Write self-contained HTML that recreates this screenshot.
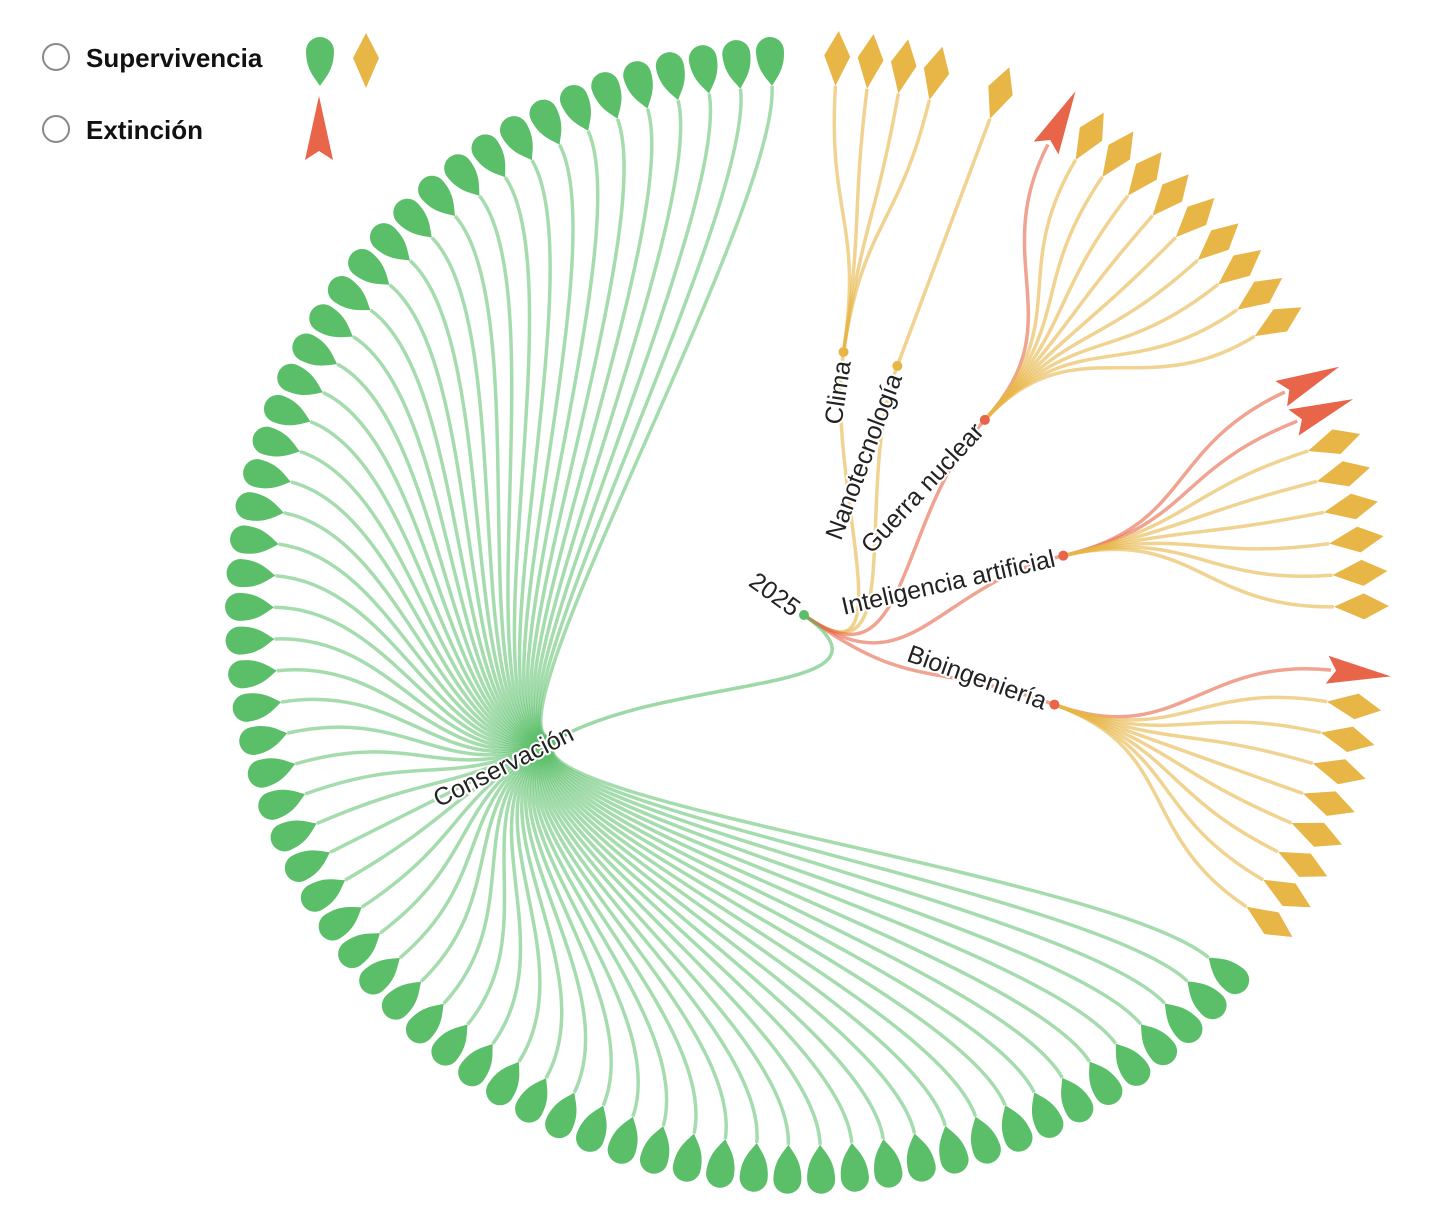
<!DOCTYPE html>
<html><head><meta charset="utf-8">
<style>
html,body{margin:0;padding:0;background:#fff;}
svg{display:block;}
text{font-family:"Liberation Sans",Arial,sans-serif;}
.lbl{font-size:25px;fill:#222;stroke:#fff;stroke-width:4px;paint-order:stroke;stroke-linejoin:round;}
</style></head>
<body>
<svg id="s" width="1438" height="1230" viewBox="0 0 1438 1230" xmlns="http://www.w3.org/2000/svg">
<g id="links" fill="none" stroke-width="3.5"></g>
<g id="shapes"></g>
<g id="labels"></g>
<circle cx="56" cy="57" r="13" fill="#fff" stroke="#888" stroke-width="2"/>
<circle cx="56" cy="129" r="13" fill="#fff" stroke="#888" stroke-width="2"/>
<text x="86" y="67" font-size="26" font-weight="bold" fill="#111">Supervivencia</text>
<text x="86" y="139" font-size="26" font-weight="bold" fill="#111">Extinción</text>
</svg>
<script>
var NS="http://www.w3.org/2000/svg";
var CX=804,CY=615,R1=266,R2=530;
var GREEN="#5bbf6a",GOLD="#e8b547",RED="#e8654a";
function P(a,r){var t=a*Math.PI/180;return [CX+r*Math.cos(t),CY+r*Math.sin(t)];}
function el(tag,attrs,parent){var e=document.createElementNS(NS,tag);for(var k in attrs)e.setAttribute(k,attrs[k]);document.getElementById(parent).appendChild(e);return e;}
var LEAF="M0,0 C8,-5 16,-14 35,-14 A14,14 0 0 1 35,14 C16,14 8,5 0,0 Z";
var DIAM="M0,0 L30,-13 L55,0 L30,13 Z";
var ARROW="M60,0 L-4,-14 L5,0 L-4,14 Z";
function shape(type,x,y,rot,parent){
  var d=type=="leaf"?LEAF:type=="diam"?DIAM:ARROW;
  var c=type=="leaf"?GREEN:type=="diam"?GOLD:RED;
  el("path",{d:d,fill:c,transform:"translate("+x+","+y+") rotate("+rot+")"},parent||"shapes");
}
var s=360/105;
var groups=[
 {name:"Clima",col:GOLD,leaves:["diam","diam","diam","diam"]},
 {name:"Nanotecnología",col:GOLD,leaves:["diam"]},
 {name:"Guerra nuclear",col:RED,leaves:["arrow","diam","diam","diam","diam","diam","diam","diam","diam","diam"]},
 {name:"Inteligencia artificial",col:RED,leaves:["arrow","arrow","diam","diam","diam","diam","diam","diam"]},
 {name:"Bioingeniería",col:RED,leaves:["arrow","diam","diam","diam","diam","diam","diam","diam","diam"]},
 {name:"Conservación",col:GREEN,leaves:[]}
];
for(var i=0;i<67;i++)groups[5].leaves.push("leaf");
var a=-86.6;
groups.forEach(function(g,gi){
  if(gi>0)a+=s;
  g.angles=[];
  g.leaves.forEach(function(t,i){if(i>0)a+=s;g.angles.push(a);});
  a+=s;
  g.a=(g.angles[0]+g.angles[g.angles.length-1])/2;
});
var rootA=(groups[0].a+groups[5].a)/2;
function fmt(p){return p[0].toFixed(1)+","+p[1].toFixed(1);}
groups.forEach(function(g){
  var c0=P(rootA,R1/2),c1=P(g.a,R1/2),e=P(g.a,R1);
  el("path",{d:"M"+CX+","+CY+" C"+fmt(c0)+" "+fmt(c1)+" "+fmt(e),stroke:g.col,"stroke-opacity":0.6},"links");
});
var RM=(R1+R2)/2;
groups.forEach(function(g){
  g.leaves.forEach(function(t,i){
    var la=g.angles[i];
    var col=t=="leaf"?GREEN:t=="diam"?GOLD:RED;
    el("path",{d:"M"+fmt(P(g.a,R1))+" C"+fmt(P(g.a,RM))+" "+fmt(P(la,RM))+" "+fmt(P(la,R2)),stroke:col,"stroke-opacity":col==GREEN?0.55:0.6},"links");
    var e=P(la,R2);
    shape(t,e[0],e[1],la);
  });
  if(g.name!="Conservación"){
    var n=P(g.a,R1);
    el("circle",{cx:n[0],cy:n[1],r:5,fill:g.col},"shapes");
  }
});
el("circle",{cx:CX,cy:CY,r:5,fill:GREEN},"shapes");
groups.forEach(function(g){
  var n=P(g.a,R1),t;
  if(g.name=="Conservación"){
    t=el("text",{"class":"lbl","text-anchor":"end",dy:"0.35em",transform:"translate("+n[0]+","+n[1]+") rotate("+(g.a+180)+") translate(6,0)"},"labels");
  } else {
    t=el("text",{"class":"lbl","text-anchor":"end",dy:"0.35em",transform:"translate("+n[0]+","+n[1]+") rotate("+g.a+") translate(-9,0)"},"labels");
  }
  t.textContent=g.name;
});
var rt=el("text",{"class":"lbl","text-anchor":"end",dy:"0.35em",transform:"translate("+CX+","+CY+") rotate("+rootA+") translate(-8,0)"},"labels");
rt.textContent="2025";
shape("leaf",320,86,-90,"labels");
shape("diam",366,88,-90,"labels");
shape("arrow",319,156,-90,"labels");
</script>
</body></html>
